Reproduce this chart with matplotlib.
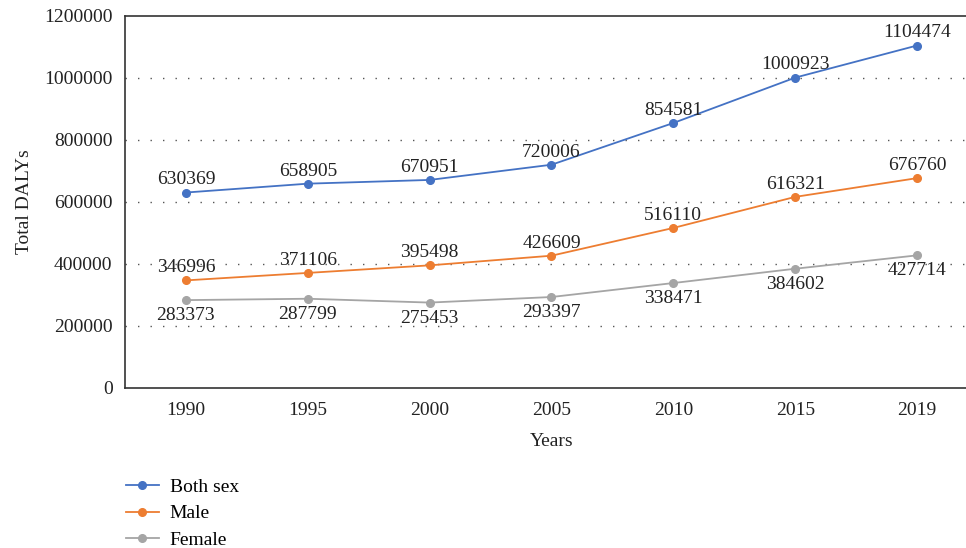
import numpy as np
import matplotlib
matplotlib.use("Agg")
import matplotlib.pyplot as plt
from matplotlib.ticker import FuncFormatter

years = ["1990", "1995", "2000", "2005", "2010", "2015", "2019"]
both_sex = [630369, 658905, 670951, 720006, 854581, 1000923, 1104474]
male = [346996, 371106, 395498, 426609, 516110, 616321, 676760]
female = [283373, 287799, 275453, 293397, 338471, 384602, 427714]

plt.rcParams['font.family'] = ['Liberation Serif', 'DejaVu Serif']

fig = plt.figure(figsize=(9.66, 5.48), dpi=100)
ax = fig.add_axes([0.1294, 0.292, 0.883, 0.679])

x = np.arange(len(years))
series = [
    ("Both sex", both_sex, "#4472C4", 3),
    ("Male", male, "#ED7D31", 3),
    ("Female", female, "#A5A5A5", -5),
]
for name, vals, col, off in series:
    ax.plot(x, vals, color=col, lw=1.3, marker="o", ms=5.5, label=name)
    for xi, v in zip(x, vals):
        ax.annotate(str(v), (xi, v), xytext=(0, off), textcoords="offset points",
                    ha="center", va="bottom" if off > 0 else "top",
                    fontsize=14, color="#222222")

ax.set_xlim(-0.5, 6.5)
ax.set_ylim(0, 1200000)
ax.set_yticks(np.arange(0, 1200001, 200000))
ax.yaxis.set_major_formatter(FuncFormatter(lambda v, p: f"{int(v)}"))
ax.set_xticks(x)
ax.set_xticklabels(years)
ax.tick_params(axis="both", length=0, labelsize=14, colors="#222222", pad=10)
ax.tick_params(axis="y", pad=9)
for yv in range(200000, 1200000, 200000):
    ax.axhline(yv, color="#555555", lw=1, ls=(0, (1, 8)), zorder=0)

ax.spines["right"].set_visible(False)
for s in ["left", "top", "bottom"]:
    ax.spines[s].set_color("#333333")
    ax.spines[s].set_linewidth(1.2)

ax.set_xlabel("Years", fontsize=14, color="#222222", labelpad=10)
ax.set_ylabel("Total DALYs", fontsize=14, color="#222222", labelpad=8)

ax.legend(loc="upper left", bbox_to_anchor=(-0.008, -0.222), frameon=False,
          fontsize=14, handlelength=1.7, handletextpad=0.55, labelspacing=0.45,
          borderaxespad=0)

fig.savefig("out.png", dpi=100)
